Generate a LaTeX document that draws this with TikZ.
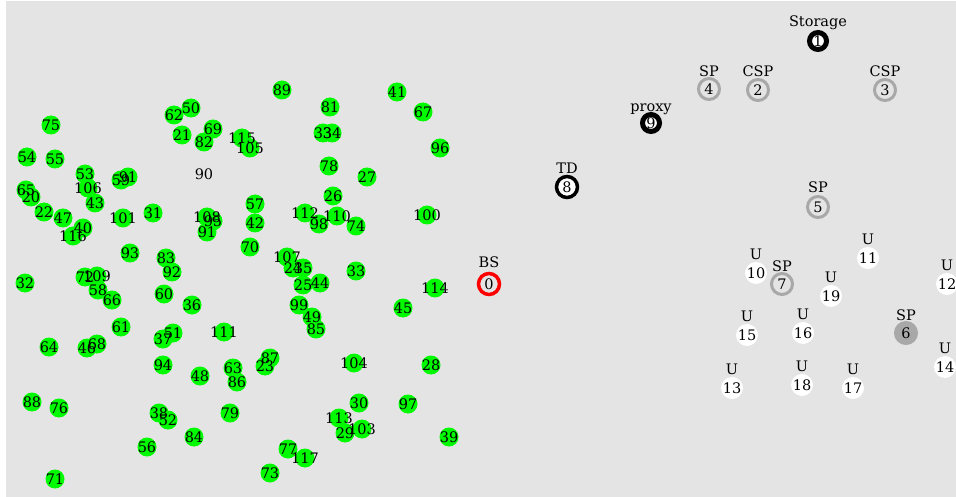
\documentclass[tikz,border=0pt]{standalone}
\usepackage{fontspec}
\setmainfont{DejaVu Serif}
\usetikzlibrary{positioning}

\definecolor{bg}{RGB}{228,228,228}
\definecolor{sensorgreen}{RGB}{0,250,0}
\definecolor{spgray}{RGB}{168,168,168}

% sensor field: label / x / y (pixels from top left)
\def\sensors{75/51/125, 62/174/115, 50/191/108, 21/182/135, 69/213/129, 82/204/142,
  54/27/157, 55/55/159, 53/85/174, 106/88/188, 43/95/203, 59/121/180, 91/128/177,
  65/26/190, 20/31/197, 22/44/212, 47/63/218, 40/83/228, 116/73/236, 101/123/218,
  31/153/213, 108/207/217, 95/213/221, 91/207/232, 93/130/253, 83/166/258,
  92/172/272, 32/25/283, 72/85/277, 109/97/276, 58/98/290, 66/112/300, 60/164/294,
  36/192/305, 61/121/327, 37/163/339, 51/173/333, 111/224/332, 64/49/347, 46/87/348,
  68/97/344, 94/163/365, 48/200/376, 63/233/368, 86/237/382, 88/32/402, 76/59/408,
  38/159/413, 52/168/420, 79/230/413, 84/194/437, 56/147/447, 71/55/479, 89/282/90,
  115/242/138, 105/250/148, 81/330/107, 33/323/133, 34/332/133, 78/329/166,
  57/255/204, 42/255/223, 70/250/247, 26/333/196, 107/287/257, 24/293/268,
  35/303/268, 25/303/285, 44/320/283, 99/299/305, 49/312/317, 85/316/329,
  23/265/366, 87/270/358, 77/288/449, 117/305/458, 73/270/473, 41/397/92,
  67/423/112, 96/440/148, 27/367/177, 112/305/213, 110/337/216, 98/319/224,
  74/356/226, 100/427/215, 33/356/271, 114/435/288, 45/403/308, 104/354/363,
  28/431/365, 30/359/403, 97/408/404, 113/339/418, 29/345/433, 103/362/429, 39/449/437}

\begin{document}
\begin{tikzpicture}[x=1pt,y=-1pt,
  num/.style={inner sep=0pt,text height=10.5pt,text depth=0pt,font=\fontsize{14.5}{14.5}\selectfont},
  tag/.style={num},
  ring/.style={circle,draw=#1,fill=white,line width=3.5pt,minimum size=21pt,inner sep=0pt,num},
  sp/.style={circle,draw=spgray,fill=bg,line width=3pt,minimum size=21pt,inner sep=0pt,num},
  user/.style={circle,fill=white,minimum size=22pt,inner sep=0pt,num}]
  \useasboundingbox (0,0) rectangle (956,497);
  \fill[white] (0,0) rectangle (956,497);
  \fill[bg] (6,1) rectangle (956,497);
  % sensors
  \foreach \n/\x/\y in \sensors \fill[sensorgreen] (\x,\y) circle (9.5);
  \foreach \n/\x/\y [count=\i] in \sensors \node[num] (s\i) at (\x,\y) {\n};
  \node[num] (s90) at (204,174) {90};
  % base station, gateway, backbone
  \node[ring=red,fill=bg] (bs) at (489,284) {0};
  \node[tag] (bsl) at ([yshift=22pt]bs) {BS};
  \node[ring=black] (td) at (567,187) {8};
  \node[tag] (tdl) at ([yshift=19pt]td) {TD};
  \node[ring=black,line width=5pt,minimum size=17pt] (proxy) at (651,123) {9};
  \node[tag] (proxyl) at ([yshift=17pt]proxy) {proxy};
  \node[ring=black,line width=5pt,minimum size=17pt] (store) at (818,41) {1};
  \node[tag] (storel) at ([yshift=20pt]store) {Storage};
  \node[sp] (sp4) at (709,89) {4};
  \node[tag] (sp4l) at ([yshift=18pt]sp4) {SP};
  \node[sp] (csp2) at (758,90) {2};
  \node[tag] (csp2l) at ([yshift=19pt]csp2) {CSP};
  \node[sp] (csp3) at (885,90) {3};
  \node[tag] (csp3l) at ([yshift=19pt]csp3) {CSP};
  \node[sp] (sp5) at (818,207) {5};
  \node[tag] (sp5l) at ([yshift=20pt]sp5) {SP};
  \node[sp] (sp7) at (782,284) {7};
  \node[tag] (sp7l) at ([yshift=18pt]sp7) {SP};
  \node[sp,fill=spgray] (sp6) at (906,333) {6};
  \node[tag] (sp6l) at ([yshift=18pt]sp6) {SP};
  % users
  \foreach \n/\x/\y in {10/756/273, 19/831/296, 11/868/258, 12/947/284, 15/747/335,
    16/803/333, 14/945/367, 13/732/388, 18/802/385, 17/853/388} {
    \node[user] (u\n) at (\x,\y) {\n};
    \node[tag] (u\n l) at ([yshift=19pt]u\n) {U};
  }
\end{tikzpicture}
\end{document}
